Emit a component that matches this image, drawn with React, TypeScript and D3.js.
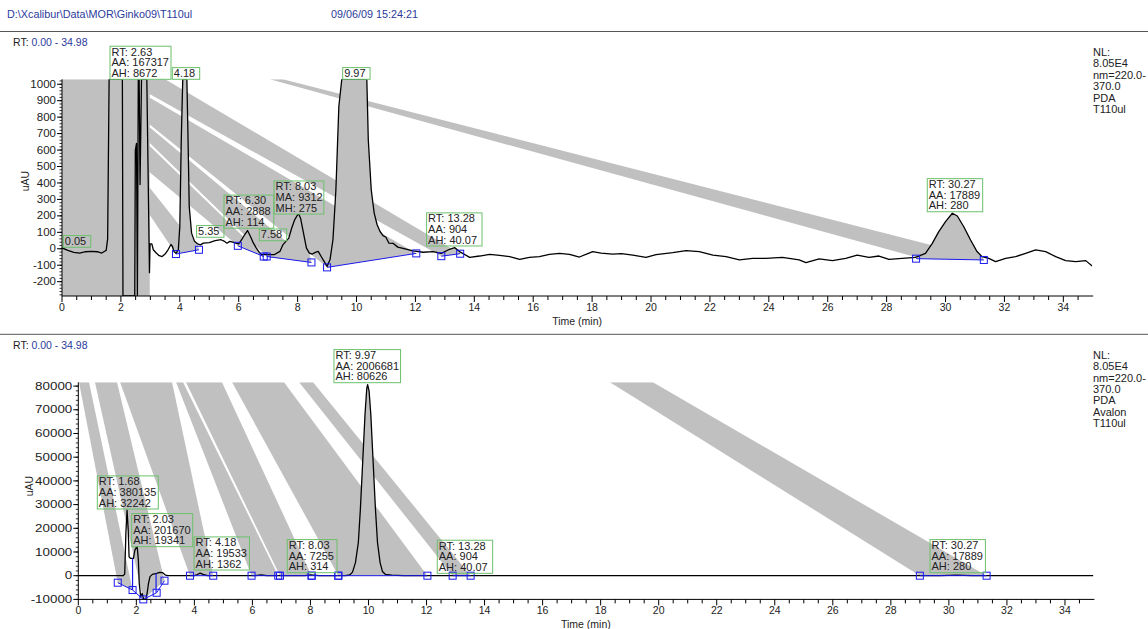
import React from 'react';
import * as d3 from 'd3';

type P = [number, number];

const headerPath = 'D:\\Xcalibur\\Data\\MOR\\Ginko09\\T110ul';
const headerDate = '09/06/09 15:24:21';
const rtRange = '0.00 - 34.98';

const topInfo = ['NL:', '8.05E4', 'nm=220.0-', '370.0', 'PDA', 'T110ul'];
const bottomInfo = ['NL:', '8.05E4', 'nm=220.0-', '370.0', 'PDA', 'Avalon', 'T110ul'];

const topYTicks = [-200, -100, 0, 100, 200, 300, 400, 500, 600, 700, 800, 900, 1000];
const bottomYTicks = [-10000, 0, 10000, 20000, 30000, 40000, 50000, 60000, 70000, 80000];
const xTicks = [0, 2, 4, 6, 8, 10, 12, 14, 16, 18, 20, 22, 24, 26, 28, 30, 32, 34];

const topTrace: P[] = [
  [0, 5], [0.2, -10], [0.4, -22], [0.6, -26], [0.8, -18], [1.0, -16], [1.2, -18], [1.35, -26], [1.45, -15], [1.5, -10],
  [1.55, 60], [1.6, 1100], [2.05, 1100], [2.07, -400], [2.47, -400], [2.49, 600], [2.53, 640], [2.56, -400], [2.59, 1100],
  [2.62, 1100], [2.65, 390], [2.7, 1100], [2.88, 1100], [2.97, -145], [2.99, 30], [3.05, 30], [3.1, -6], [3.2, -26],
  [3.3, -42], [3.4, -47], [3.5, -32], [3.6, -6], [3.7, 26], [3.75, 14], [3.8, -16], [3.87, -28], [3.95, -6], [4.0, 136],
  [4.05, 663], [4.1, 1100], [4.24, 1100], [4.28, 663], [4.32, 257], [4.4, 95], [4.5, 45], [4.6, 30], [4.7, 24], [4.8, 34],
  [5.0, 38], [5.2, 50], [5.4, 55], [5.5, 47], [5.6, 34], [5.7, 45], [5.8, 40], [5.9, 34], [6.0, 30], [6.1, 55], [6.2, 85],
  [6.3, 111], [6.4, 75], [6.5, 34], [6.6, 4], [6.7, -22], [6.8, -36], [7.0, -36], [7.2, -36], [7.4, -16], [7.5, 24],
  [7.6, 45], [7.7, 65], [7.8, 126], [7.9, 176], [8.0, 207], [8.05, 207], [8.1, 186], [8.2, 95], [8.3, 4], [8.4, -26],
  [8.5, -32], [8.6, -22], [8.7, -16], [8.8, -47], [8.9, -77], [9.0, -107], [9.1, -67], [9.2, 55], [9.3, 359], [9.4, 865],
  [9.5, 1100], [10.35, 1100], [10.4, 663], [10.5, 359], [10.6, 217], [10.7, 146], [10.8, 105], [10.9, 80], [11.0, 70],
  [11.1, 34], [11.24, 33], [11.4, 10], [11.58, 3], [11.92, -13], [12.26, -21], [12.6, -17], [12.88, -28], [13.16, -3],
  [13.33, 7], [13.5, -17], [13.84, -52], [14.18, -44], [14.52, -34], [14.86, -40], [15.2, -48], [15.54, -64], [15.87, -52],
  [16.21, -48], [16.55, -34], [16.89, -28], [17.23, -34], [17.57, -50], [18.02, -17], [18.3, -26], [18.7, -32], [19.0, -30],
  [19.38, -38], [19.83, -52], [20.17, -36], [20.74, -24], [21.19, -11], [21.64, -17], [22.1, -38], [22.55, -48], [23.0, -68],
  [23.45, -58], [23.9, -58], [24.46, -52], [25.03, -68], [25.26, -84], [25.71, -62], [26.16, -72], [26.61, -58], [27.0, -38],
  [27.4, -52], [27.74, -44], [28.08, -64], [28.53, -58], [28.98, -52], [29.32, -28], [29.55, 33], [29.77, 104], [30.0, 165],
  [30.23, 216], [30.4, 199], [30.62, 134], [30.85, 53], [31.07, -17], [31.24, -48], [31.47, -58], [31.7, -78], [32.04, -58],
  [32.38, -48], [32.72, -28], [33.06, -7], [33.4, -17], [33.74, -48], [34.08, -72], [34.42, -78], [34.76, -72], [34.98, -105],
];

const topBaselines: P[][] = [
  [[3.87, -32], [4.65, -6]],
  [[5.97, 18], [6.85, -47]],
  [[6.95, -47], [8.47, -83]],
  [[9.0, -113], [12.03, -28]],
  [[12.88, -45], [13.52, -30]],
  [[29.0, -60], [31.3, -68]],
];

const topFills: number[] = [0, 1, 2, 3, 4, 5];

// artefact bands of the peak fill, in (time, uAU)
const topBands: P[][] = [
  [[0, 1100], [2.98, 1100], [2.98, -400], [0, -400]],
  [[7.06, 1030], [7.5, 1030], [31.23, -56], [29.1, -56]],
  [[2.07, 1030], [3.5, 1030], [13.52, -30], [12.88, -45]],
  [[2.07, 1014], [12.03, -28], [9.0, -113], [2.07, 886]],
  [[2.07, 874], [8.47, -83], [6.95, -47], [2.07, 801]],
  [[2.07, 783], [6.85, -47], [5.97, 18], [2.07, 600]],
  [[2.07, 576], [4.65, -6], [3.87, -32], [2.07, 449]],
];

const topLabels: { x: number; v: number; lines: string[] }[] = [
  { x: 0.045, v: 9, lines: ['0.05'] },
  { x: 1.63, v: 1030, lines: ['RT: 2.63', 'AA: 167317', 'AH: 8672'] },
  { x: 3.745, v: 1030, lines: ['4.18'] },
  { x: 4.57, v: 70, lines: ['5.35'] },
  { x: 5.5, v: 125, lines: ['RT: 6.30', 'AA: 2888', 'AH: 114'] },
  { x: 6.7, v: 49, lines: ['7.58'] },
  { x: 7.2, v: 211, lines: ['RT: 8.03', 'MA: 9312', 'MH: 275'] },
  { x: 9.53, v: 1030, lines: ['9.97'] },
  { x: 12.38, v: 17, lines: ['RT: 13.28', 'AA: 904', 'AH: 40.07'] },
  { x: 29.38, v: 225, lines: ['RT: 30.27', 'AA: 17889', 'AH: 280'] },
];

const bottomTrace: P[] = [
  [0, 0], [1.55, 0], [1.6, 800], [1.64, 18000], [1.68, 27700], [1.72, 19300], [1.75, 8000], [1.8, 7300], [1.9, 7300],
  [1.95, 10800], [2.0, 12000], [2.03, 12200], [2.07, 6600], [2.1, -3200], [2.15, -8900], [2.2, -7500], [2.25, -10500],
  [2.33, -10500], [2.37, -7500], [2.42, -3200], [2.47, -400], [2.55, 560], [2.7, 1000], [2.8, 1400], [2.9, 1300], [3.0, 280],
  [3.1, 0], [4.0, 0], [4.1, 500], [4.2, 1100], [4.3, 600], [4.45, 0], [6.1, 0], [6.3, 300], [6.5, 0], [7.8, 0], [8.03, 314],
  [8.3, 0], [9.2, 0], [9.35, 300], [9.45, 1500], [9.55, 5500], [9.65, 14000], [9.72, 28000], [9.8, 48000], [9.88, 68000],
  [9.94, 79000], [9.97, 80626], [10.02, 78000], [10.08, 68000], [10.16, 48000], [10.24, 28000], [10.31, 14000],
  [10.4, 5500], [10.48, 1800], [10.58, 600], [10.8, 250], [11.2, 0], [29.7, 0], [30.27, 280], [30.8, 0], [34.98, 0],
];

const bottomBaselines: P[][] = [
  [[1.36, -2950], [1.87, -6050], [2.24, -10000], [2.7, -7200], [2.97, -2100]],
  [[3.85, 0], [4.65, 0]],
  [[5.97, 0], [6.89, 0]],
  [[6.95, 0], [8.04, 0]],
  [[8.04, 0], [8.96, 0]],
  [[8.96, 0], [12.03, 0]],
  [[12.9, 0], [13.52, 0]],
  [[29.0, 0], [31.3, 0]],
];
const bottomDrops: P[] = [[1.87, 7300], [2.68, 1000]];
const bottomFills: number[] = [5];

const bottomBands: P[][] = [
  [[0.024, 81600], [0.369, 81600], [1.87, -6050], [1.36, -2950]],
  [[0.575, 81600], [1.334, 81600], [2.97, -2100], [2.24, -10000]],
  [[1.44, 81600], [3.23, 81600], [4.65, 0], [3.85, 0]],
  [[3.37, 81600], [3.61, 81600], [6.89, 0], [5.97, 0]],
  [[3.71, 81600], [4.95, 81600], [8.04, 0], [6.95, 0]],
  [[5.3, 81600], [7.09, 81600], [12.03, 0], [8.96, 0]],
  [[7.61, 81600], [8.09, 81600], [13.52, 0], [12.9, 0]],
  [[18.32, 81600], [19.8, 81600], [31.3, 0], [29.0, 0]],
];

const bottomLabels: { x: number; v: number; lines: string[] }[] = [
  { x: 0.655, v: 28140, lines: ['RT: 1.68', 'AA: 380135', 'AH: 32242'] },
  { x: 1.84, v: 12240, lines: ['RT: 2.03', 'AA: 201670', 'AH: 19341'] },
  { x: 3.99, v: 2400, lines: ['RT: 4.18', 'AA: 19533', 'AH: 1362'] },
  { x: 7.2, v: 1270, lines: ['RT: 8.03', 'AA: 7255', 'AH: 314'] },
  { x: 8.81, v: 81430, lines: ['RT: 9.97', 'AA: 2006681', 'AH: 80626'] },
  { x: 12.37, v: 1000, lines: ['RT: 13.28', 'AA: 904', 'AH: 40.07'] },
  { x: 29.35, v: 1270, lines: ['RT: 30.27', 'AA: 17889', 'AH: 280'] },
];

const FONT = 'Arial, "Liberation Sans", sans-serif';
const GRAY = '#c0c0c0';
const BLUE = '#1a1aee';
const GREEN = '#6cc06c';
const TXT = '#222';
const HEAD = '#2b3a9c';

interface PanelProps {
  x0: number; x1: number; yTop: number; yBot: number;
  yDomain: [number, number];
  yTicks: number[]; yMinor: number; yLabelStretch: number;
  unitX: number; unitY: number;
  trace: P[]; baselines: P[][]; fills: number[]; bands: P[][];
  labels: { x: number; v: number; lines: string[] }[];
  drops: P[];
  id: string;
}

function Panel(p: PanelProps) {
  const x = d3.scaleLinear().domain([0, 34.98]).range([p.x0, p.x1]);
  const y = d3.scaleLinear().domain(p.yDomain).range([p.yBot, p.yTop]).clamp(true);
  const line = d3.line<P>().x(d => x(d[0])).y(d => y(d[1]));
  const poly = (pts: P[]) => line(pts) + 'Z';

  const fillPolys = p.fills.map(i => {
    const seg = p.baselines[i];
    const a = seg[0], b = seg[seg.length - 1];
    const inner = p.trace.filter(d => d[0] > a[0] && d[0] < b[0]);
    return [a, ...inner, b] as P[];
  });

  const yMinorTicks = d3.range(p.yDomain[0] - (p.yDomain[0] % p.yMinor), p.yDomain[1], p.yMinor)
    .filter(v => v >= p.yDomain[0] && v <= p.yDomain[1]);
  const xMinor = d3.range(0, 35, 0.5);
  const clip = `clip-${p.id}`;
  return (
    <g>
      <defs>
        <clipPath id={clip}>
          <rect x={p.x0} y={p.yTop} width={p.x1 - p.x0} height={p.yBot - p.yTop} />
        </clipPath>
      </defs>
      <g clipPath={`url(#${clip})`}>
        {p.bands.map((b, i) => <path key={'b' + i} d={poly(b)} fill={GRAY} stroke="none" />)}
        {fillPolys.map((f, i) => <path key={'f' + i} d={poly(f)} fill={GRAY} stroke="none" />)}
        <path d={line(p.trace) || ''} fill="none" stroke="#000" strokeWidth={1.3} strokeLinejoin="round" />
        {p.baselines.map((s, i) => <path key={'l' + i} d={line(s) || ''} fill="none" stroke={BLUE} strokeWidth={1} />)}
        {p.drops.map((d, i) => <line key={'d' + i} x1={x(d[0])} x2={x(d[0])} y1={y(d[1])}
          y2={y(p.baselines[0].reduce((m, q) => Math.abs(q[0] - d[0]) < Math.abs(m[0] - d[0]) ? q : m)[1])}
          stroke={BLUE} strokeWidth={1.2} />)}
      </g>
      {p.baselines.flat().map((s, i) => (
        <rect key={'s' + i} x={x(s[0]) - 3.5} y={y(s[1]) - 3.5} width={7} height={7} fill="none" stroke={BLUE} strokeWidth={1} />
      ))}
      <line x1={p.x0} x2={p.x0} y1={p.yTop} y2={p.yBot} stroke="#000" strokeWidth={1} />
      <line x1={p.x0} x2={p.x1 + 1} y1={p.yBot} y2={p.yBot} stroke="#000" strokeWidth={1} />
      {yMinorTicks.map(v => <line key={'ym' + v} x1={p.x0 - 2.5} x2={p.x0} y1={y(v)} y2={y(v)} stroke="#000" strokeWidth={0.8} />)}
      {p.yTicks.map(v => (
        <g key={'yt' + v}>
          <line x1={p.x0 - 5} x2={p.x0} y1={y(v)} y2={y(v)} stroke="#000" strokeWidth={1} />
          <text transform={`translate(${p.x0 - 6},${y(v)}) scale(${p.yLabelStretch},1)`} dy="0.35em" textAnchor="end"
            fontSize={10.3} fill={TXT} fontFamily={FONT}>{v}</text>
        </g>
      ))}
      {xMinor.map(t => <line key={'xm' + t} x1={x(t)} x2={x(t)} y1={p.yBot} y2={p.yBot + (t % 2 === 0 ? 6 : 4)} stroke="#000" strokeWidth={1} />)}
      {xTicks.map(t => (
        <text key={'xt' + t} x={x(t)} y={p.yBot + 11} dy="0.35em" textAnchor="middle" fontSize={10.5} fill={TXT} fontFamily={FONT}>{t}</text>
      ))}
      <text x={(p.x0 + p.x1) / 2} y={p.yBot + 25} dy="0.35em" textAnchor="middle" fontSize={10.5} fill={TXT} fontFamily={FONT}>Time (min)</text>
      <text transform={`translate(${p.unitX},${p.unitY}) rotate(-90)`} textAnchor="middle" dy="0.35em" fontSize={10.5} fill={TXT} fontFamily={FONT}>uAU</text>
      {p.labels.map((l, i) => {
        const lx = x(l.x), ly = y(l.v);
        const w = (d3.max(l.lines, s => s.length) || 4) * 5.6 + 5;
        const h = l.lines.length * 10.7 + 1;
        return (
          <g key={'lab' + i}>
            <rect x={lx} y={ly - h} width={w} height={h} fill="none" stroke={GREEN} strokeWidth={1} />
            {l.lines.map((s, j) => (
              <text key={j} x={lx + 1.5} y={ly - h + 5.5 + j * 10.7} dy="0.35em" fontSize={11} fill={TXT} fontFamily={FONT}>{s}</text>
            ))}
          </g>
        );
      })}
    </g>
  );
}

export default function App() {
  return (
    <svg width={1148} height={629} style={{ position: 'absolute', left: 0, top: 0, background: '#fff' }} fontFamily={FONT}>
      <rect x={0} y={0} width={1148} height={629} fill="#fff" />
      <text x={7} y={14.5} dy="0.35em" fontSize={10.8} fill={HEAD}>{headerPath}</text>
      <text x={331} y={14.5} dy="0.35em" fontSize={10.8} fill={HEAD}>{headerDate}</text>
      <line x1={0} x2={1148} y1={31.5} y2={31.5} stroke="#555" strokeWidth={1} />
      <text x={13} y={42.5} dy="0.35em" fontSize={10.5} fill={TXT}>RT: <tspan fill={HEAD}>{rtRange}</tspan></text>
      {topInfo.map((s, i) => <text key={'ti' + i} x={1093} y={51.7 + i * 11.5} dy="0.35em" fontSize={11} fill={TXT}>{s}</text>)}
      <Panel id="top" x0={62} x1={1092.2} yTop={79.3} yBot={296} yDomain={[-287, 1030]} yTicks={topYTicks} yMinor={20}
        yLabelStretch={1.12} unitX={25.5} unitY={181}
        trace={topTrace} baselines={topBaselines} fills={topFills} bands={topBands} labels={topLabels} drops={[]} />
      <line x1={0} x2={1148} y1={334.3} y2={334.3} stroke="#555" strokeWidth={1} />
      <text x={13} y={345} dy="0.35em" fontSize={10.5} fill={TXT}>RT: <tspan fill={HEAD}>{rtRange}</tspan></text>
      {bottomInfo.map((s, i) => <text key={'bi' + i} x={1093} y={355 + i * 11.4} dy="0.35em" fontSize={11} fill={TXT}>{s}</text>)}
      <Panel id="bot" x0={78.3} x1={1093.4} yTop={382.3} yBot={599.4} yDomain={[-10000, 81600]} yTicks={bottomYTicks} yMinor={2000}
        yLabelStretch={1.3} unitX={29.5} unitY={486}
        trace={bottomTrace} baselines={bottomBaselines} fills={bottomFills} bands={bottomBands} labels={bottomLabels} drops={bottomDrops} />
    </svg>
  );
}
